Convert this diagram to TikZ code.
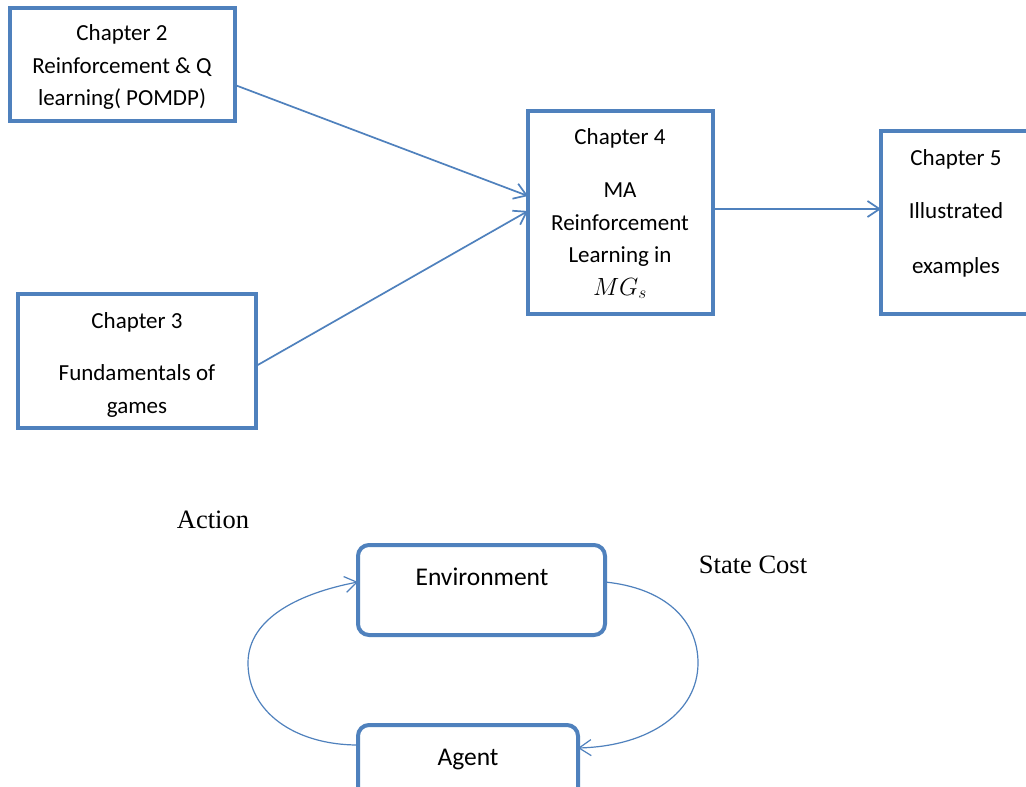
\documentclass[tikz,border=0pt]{standalone}
\usepackage{fontspec}
\usetikzlibrary{arrows.meta}
\newfontfamily\carl{Carlito}
\newfontfamily\tnr{Liberation Serif}
\definecolor{ofblue}{RGB}{79,129,189}
\begin{document}
\begin{tikzpicture}[x=1pt,y=-1pt,
  chbox/.style={draw=ofblue, line width=4pt, rectangle, inner sep=0pt, outer sep=0pt},
  rbox/.style={chbox, rounded corners=11pt},
  btxt/.style={font={\carl\fontsize{23}{32.5}\selectfont}, align=center, anchor=base, inner sep=0pt},
  bigtxt/.style={btxt, font={\carl\fontsize{25.5}{30}\selectfont}},
  stxt/.style={font={\tnr\fontsize{26.5}{30}\selectfont}, anchor=base, inner sep=0pt},
  conn/.style={draw=ofblue, line width=1.7pt, -{Straight Barb[length=12pt,width=16pt,line width=1.7pt]}},
  loop/.style={draw=ofblue, line width=1.2pt, -{Straight Barb[length=12pt,width=16pt,line width=1.2pt]}}
]
\useasboundingbox (0,0) rectangle (1026,787);
\clip (0,0) rectangle (1026,787);
\fill[white] (0,0) rectangle (1026,787);

% chapter boxes
\node[chbox, minimum width=225pt, minimum height=113pt] (c2) at (122.5,64.5) {};
\node[chbox, minimum width=238pt, minimum height=134pt] (c3) at (137,361) {};
\node[chbox, minimum width=185pt, minimum height=203pt] (c4) at (620.5,212.5) {};
\node[chbox, minimum width=159pt, minimum height=183pt] (c5) at (960.5,222.5) {};

% (anchor base = baseline of the last line)
\node[btxt] (t2) at (122,105.5) {Chapter 2\\Reinforcement \& Q\\learning( POMDP)};
\node[btxt] (t3) at (137,413) {Chapter 3\\[20pt]Fundamentals of\\games};
\node[btxt] (t4) at (620,295) {Chapter 4\\[20.5pt]MA\\Reinforcement\\Learning in\\$MG_s$};
\node[btxt] (t5) at (956,273) {Chapter 5\\[20.5pt]Illustrated\\[22pt]examples};

\draw[conn] ([yshift=-20.5pt]c2.east) -- ([yshift=16.5pt]c4.west);
\draw[conn] ([yshift=-5pt]c3.east) -- ([yshift=1.5pt]c4.west);
\draw[conn] ([yshift=3.5pt]c4.east) -- ([yshift=13.5pt]c5.west);

% agent / environment loop
\node[rbox, minimum width=247pt, minimum height=90pt] (env) at (481.5,590) {};
\node[rbox, minimum width=220pt, minimum height=80pt] (agent) at (468,765) {};
\node[bigtxt] (envt) at (482,585) {Environment};
\node[bigtxt] (agentt) at (468,765) {Agent};

\node[stxt] (action) at (213,528) {Action};
\node[stxt] (state) at (753,573) {State Cost};

\draw[loop] ([yshift=20pt]agent.west) .. controls (295,745) and (248,712) .. (248,663)
  .. controls (248,618) and (300,593) .. ([yshift=8pt]env.west);
\draw[loop] ([yshift=8pt]env.east) .. controls (665,588) and (698,620) .. (698,663)
  .. controls (698,712) and (650,746) .. ([yshift=17pt]agent.east);
\end{tikzpicture}
\end{document}
